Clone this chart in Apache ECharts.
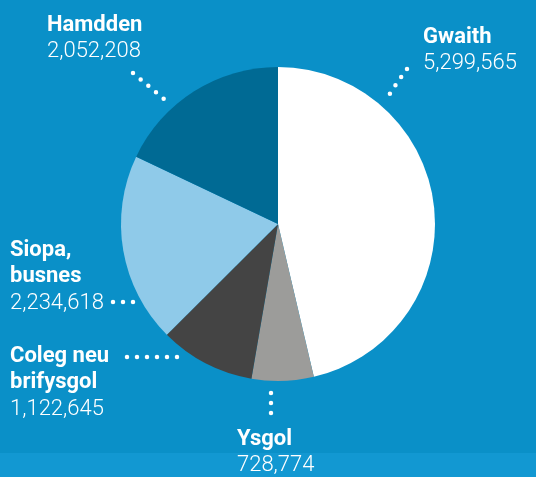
<!DOCTYPE html>
<html>
<head>
<meta charset="utf-8">
<script src="https://cdn.jsdelivr.net/npm/echarts@6/dist/echarts.min.js"></script>
<style>
  html, body { margin: 0; padding: 0; }
  #pie-wrap {
    width: 536px;
    height: 477px;
    background: linear-gradient(to bottom, #0a90c8 0, #0a90c8 453px, #1298d2 453px, #1298d2 100%);
  }
</style>
</head>
<body>
<div id="pie-wrap"></div>
<script>
  const categories = ['Gwaith', 'Ysgol', 'Coleg neu\nbrifysgol', 'Siopa,\nbusnes', 'Hamdden']
  const values = [5299565, 728774, 1122645, 2234618, 2052208]
  const colors = ['#ffffff', '#9c9c9a', '#444444', '#8fcae9', '#006a94']

  // label top-left corners and the dotted leader for each slice
  const labelPos = [[423, 24], [237, 426], [10, 343], [10, 237], [47, 12]]
  const dotLines = [
    [[407, 69], [398, 81.5], [389, 95]],
    [[271, 393], [271, 407], [271, 421]],
    [[127, 357], [154, 357], [180.5, 357]],
    [[113, 302], [125, 302], [137, 302]],
    [[133, 73], [148.5, 86], [164, 99]]
  ]

  const mychart = echarts.init(document.querySelector('#pie-wrap'))
  const seriesData = categories.map((name, i) => ({
    name,
    value: values[i],
    itemStyle: { color: colors[i] }
  }))

  mychart.setOption({
    animation: false,
    series: [
      {
        type: 'pie',
        center: [278, 224],
        radius: 157,
        startAngle: 90,
        clockwise: true,
        silent: true,
        data: seriesData,
        label: {
          show: true,
          position: 'outer',
          overflow: 'none',
          formatter (p) {
            const lines = p.name.split('\n').map(s => `{t|${s}}`)
            lines.push(`{v|${p.value.toLocaleString('en-US')}}`)
            return lines.join('\n')
          },
          rich: {
            t: { fontFamily: 'Roboto', fontWeight: 'bold', fontSize: 22, lineHeight: 26.5, color: '#ffffff' },
            v: { fontFamily: 'Roboto', fontWeight: 300, fontSize: 22, lineHeight: 26.5, color: '#ffffff' }
          }
        },
        labelLine: {
          show: true,
          lineStyle: {
            color: '#ffffff',
            width: 4.5,
            type: [0, 10],
            cap: 'round'
          }
        },
        labelLayout (params) {
          const i = params.dataIndex
          return {
            x: labelPos[i][0],
            y: labelPos[i][1],
            align: 'left',
            verticalAlign: 'top',
            width: 200,
            labelLinePoints: dotLines[i]
          }
        }
      }
    ]
  })
</script>
</body>
</html>
